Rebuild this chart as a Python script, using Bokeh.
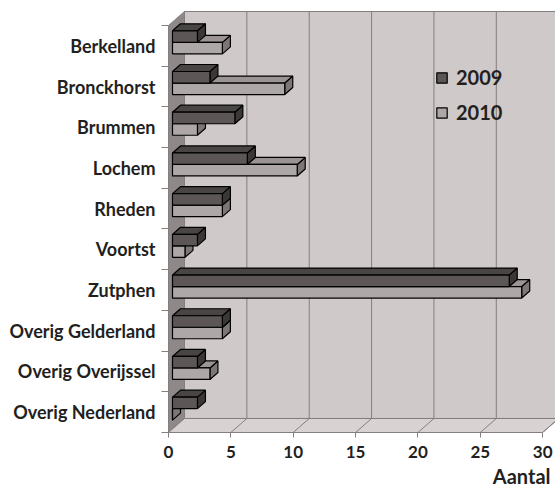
from bokeh.plotting import figure
from bokeh.models import Range1d, FixedTicker, Legend, LegendItem, Title
from bokeh.embed import file_html
from bokeh.resources import INLINE

# ---------------- data ----------------
categories = ["Berkelland", "Bronckhorst", "Brummen", "Lochem", "Rheden",
              "Voortst", "Zutphen", "Overig Gelderland", "Overig Overijssel",
              "Overig Nederland"]
values_2009 = [2, 3, 5, 6, 4, 2, 27, 4, 2, 2]
values_2010 = [4, 9, 2, 10, 4, 1, 28, 4, 3, 0]
series_names = ["2009", "2010"]
x_ticks = [0, 5, 10, 15, 20, 25, 30]
x_title = "Aantal"

# ---------------- geometry / style ----------------
FONT = "Lato"
DX, DY = 1.283, 0.344          # full depth offset (data units)
D_FRONT, D_BACK = 0.25, 0.75   # bar depth span
BAR_H = 0.283                  # bar thickness (category units)
EDGE = "#857e7e"
TXT = "#231f20"

n = len(categories)
centers = [n - i for i in range(n)]
x_max = x_ticks[-1]
y_lo, y_hi = 0.5, n + 0.5
x_end = 31.03

p = figure(width=555, height=495,
           x_range=Range1d(0, x_end), y_range=Range1d(y_lo, 11.114),
           output_backend="svg", toolbar_location=None,
           min_border_left=168, min_border_right=0, min_border_top=0,
           min_border_bottom=63)
p.xgrid.visible = False
p.ygrid.visible = False
p.outline_line_color = None
p.background_fill_color = "white"
p.border_fill_color = "white"

# ---------------- walls ----------------
p.quad(left=[DX], right=[x_max + DX], bottom=[y_lo + DY], top=[y_hi + DY],
       fill_color="#d0c9c9", line_color=EDGE, line_width=1)
p.patch([0, DX, DX, 0], [y_lo, y_lo + DY, y_hi + DY, y_hi],
        fill_color="#8f8888", line_color=EDGE, line_width=1)
p.patch([0, x_max, x_max + DX, DX], [y_lo, y_lo, y_lo + DY, y_lo + DY],
        fill_color="#d8d2d2", line_color=EDGE, line_width=1)
gx = [t + DX for t in x_ticks[1:]]
p.segment(x0=gx, y0=[y_lo + DY] * len(gx), x1=gx, y1=[y_hi + DY] * len(gx),
          line_color=EDGE, line_width=1)
p.segment(x0=x_ticks[1:], y0=[y_lo] * len(gx), x1=gx, y1=[y_lo + DY] * len(gx),
          line_color=EDGE, line_width=1)

# ---------------- 3D bars ----------------
def draw_series(values, lower, front_col, top_col, side_col):
    fx = D_FRONT * DX
    fy = D_FRONT * DY
    ddx = (D_BACK - D_FRONT) * DX
    ddy = (D_BACK - D_FRONT) * DY
    lefts, rights, bots, tops = [], [], [], []
    top_xs, top_ys, side_xs, side_ys = [], [], [], []
    for c, v in zip(centers, values):
        y0 = c - BAR_H if lower else c
        y1 = c if lower else c + BAR_H
        l, r, b, t = fx, v + fx, y0 + fy, y1 + fy
        lefts.append(l); rights.append(r); bots.append(b); tops.append(t)
        top_xs.append([l, r, r + ddx, l + ddx])
        top_ys.append([t, t, t + ddy, t + ddy])
        side_xs.append([r, r + ddx, r + ddx, r])
        side_ys.append([b, b + ddy, t + ddy, t])
    p.patches(side_xs, side_ys, fill_color=side_col, line_color="black", line_width=1.2)
    p.patches(top_xs, top_ys, fill_color=top_col, line_color="black", line_width=1.2)
    return p.quad(left=lefts, right=rights, bottom=bots, top=tops,
                  fill_color=front_col, line_color="black", line_width=1.2)

r2010 = draw_series(values_2010, True, "#aea7a7", "#9c9494", "#7d7676")
r2009 = draw_series(values_2009, False, "#5c5656", "#4a4545", "#3b3737")

# ---------------- axes ----------------
xa = p.xaxis[0]
xa.ticker = FixedTicker(ticks=x_ticks)
xa.bounds = (0, x_max)
xa.axis_line_color = EDGE
xa.major_tick_line_color = EDGE
xa.major_tick_out = 5
xa.major_tick_in = 0
xa.minor_tick_line_color = None
xa.major_label_text_font = FONT
xa.major_label_text_font_size = "17px"
xa.major_label_text_font_style = "bold"
xa.major_label_text_color = TXT
xa.major_label_standoff = 8

ya = p.yaxis[0]
ya.ticker = FixedTicker(ticks=centers, minor_ticks=[y_lo + k for k in range(n + 1)])
ya.major_label_overrides = {c: name for c, name in zip(centers, categories)}
ya.bounds = (y_lo, y_hi)
ya.axis_line_color = EDGE
ya.major_tick_out = 0
ya.major_tick_in = 0
ya.minor_tick_out = 7
ya.minor_tick_in = 0
ya.minor_tick_line_color = EDGE
ya.major_label_text_font = FONT
ya.major_label_text_font_size = "18px"
ya.major_label_text_font_style = "bold"
ya.major_label_text_color = TXT
ya.major_label_standoff = 6

p.add_layout(Title(text=x_title, align="right", offset=5, text_font=FONT,
                   text_font_size="20px", text_font_style="bold",
                   text_color=TXT, standoff=3), "below")

legend = Legend(items=[LegendItem(label=series_names[0], renderers=[r2009]),
                       LegendItem(label=series_names[1], renderers=[r2010])],
                location=(262, 303), glyph_width=13, glyph_height=13,
                label_standoff=8, spacing=11, padding=5, margin=0,
                border_line_alpha=0, background_fill_alpha=0,
                label_text_font=FONT, label_text_font_size="20px",
                label_text_font_style="bold", label_text_color=TXT)
p.add_layout(legend)

open("out.html", "w").write(file_html(p, INLINE))
